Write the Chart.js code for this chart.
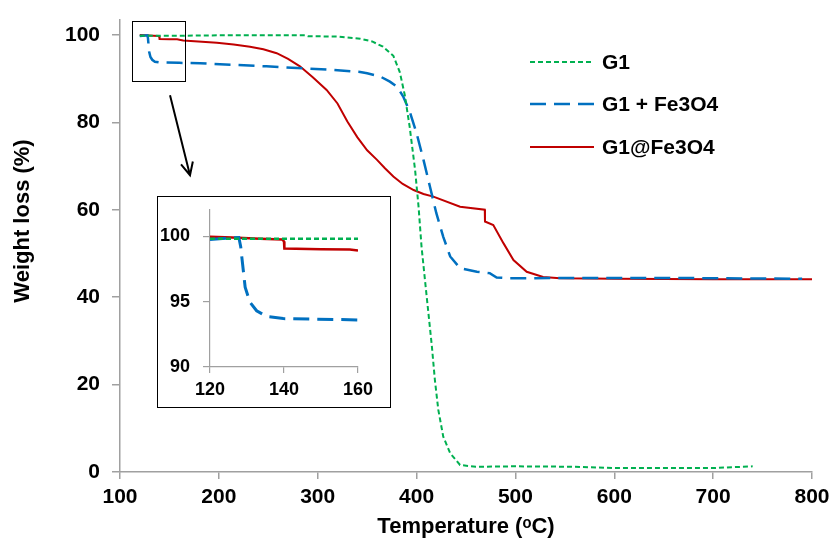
<!DOCTYPE html>
<html>
  <head>
    <title>TGA curves</title>
    <style>
        body {
            background-color: white;
            margin: 0;
            padding: 0;
          }
          .wrap {
            position: relative;
            width: 835px;
            height: 544px;
          }
          .inset {
            position: absolute;
            left: 157px;
            top: 196px;
            width: 232px;
            height: 210px;
            border: 1px solid #000;
            background: white;
          }
    </style>
    <script src="https://cdn.jsdelivr.net/npm/chart.js"></script>
  </head>
  <body>
    <div class="wrap">
      <canvas id="mainChart" width="835" height="544"></canvas>
      <div class="inset">
        <canvas id="insetChart" width="232" height="210"></canvas>
      </div>
    </div>
    <script>
      // data
      const seriesNames = ["G1", "G1 + Fe3O4", "G1@Fe3O4"];

      const g1Temp = [120, 160, 200, 250, 287, 290, 320, 343, 355, 366, 376.5, 383, 388, 393, 398.5, 402, 405, 408.5, 412, 415.5, 418.5, 422, 427, 434, 444, 460, 500, 560, 600, 650, 700, 740];
      const g1Weight = [99.8, 99.8, 99.9, 99.9, 99.9, 99.7, 99.6, 99.1, 98.5, 97.3, 95.2, 91.5, 86.3, 79, 69.1, 60.7, 51.6, 43.9, 36.3, 28.7, 21.1, 14.2, 8.1, 4.3, 1.6, 1.2, 1.3, 1.2, 0.9, 0.9, 0.9, 1.3];

      const mixTemp = [120, 127.8, 128.3, 128.6, 129.5, 130.8, 132.6, 135.3, 139.8, 160, 181, 248, 315, 343, 350, 363, 373, 380, 386.5, 393, 400, 407, 413.5, 420, 427, 434, 444, 461, 474, 481, 494, 550, 650, 790];
      const mixWeight = [99.75, 99.9, 99.2, 98.4, 96.1, 94.95, 94.3, 93.86, 93.7, 93.6, 93.5, 92.8, 92, 91.5, 91.2, 90.5, 89.3, 88.2, 85.9, 82.5, 77.5, 71.4, 65.3, 59.2, 53.8, 49.3, 46.6, 45.8, 45.5, 44.5, 44.3, 44.4, 44.4, 44.2];

      const coreTemp = [120, 126, 133.5, 139.5, 140, 140.1, 150, 157.8, 160, 164, 198, 215, 231.5, 245, 258.5, 270, 282, 295, 309, 320, 330, 340, 350, 360, 368, 376.5, 386, 397, 407, 417, 444, 469, 469.2, 477.6, 488, 498, 511.4, 528, 545, 600, 700, 800];
      const coreWeight = [99.95, 99.9, 99.8, 99.75, 99.6, 99.05, 99, 98.98, 98.9, 98.7, 98.2, 97.8, 97.3, 96.7, 95.8, 94.5, 92.8, 90.3, 87.4, 84.3, 80.2, 76.6, 73.6, 71.4, 69.5, 67.6, 65.9, 64.5, 63.6, 63, 60.7, 60, 57.3, 56.5, 52.3, 48.5, 45.8, 44.6, 44.3, 44.2, 44.1, 44.1];

      const xTicks = [100, 200, 300, 400, 500, 600, 700, 800];
      const yTicks = [0, 20, 40, 60, 80, 100];
      const insetXTicks = [120, 140, 160];
      const insetYTicks = [90, 95, 100];

      const FONT = "'Liberation Sans', Arial, sans-serif";
      const AXIS = "#a0a0a0";

      function toPoints(xs, ys) {
        return xs.map((x, i) => ({ x: x, y: ys[i] }));
      }

      function makeDatasets(w) {
        return [
          {
            label: seriesNames[0],
            data: toPoints(g1Temp, g1Weight),
            borderColor: "#00b050",
            borderWidth: w,
            borderDash: [5, 3]
          },
          {
            label: seriesNames[1],
            data: toPoints(mixTemp, mixWeight),
            borderColor: "#0070c0",
            borderWidth: w + 0.5,
            borderDash: [16, 8]
          },
          {
            label: seriesNames[2],
            data: toPoints(coreTemp, coreWeight),
            borderColor: "#c00000",
            borderWidth: w
          }
        ];
      }

      function noPadX(s) { s.paddingLeft = 0; s.paddingRight = 0; }
      function noPadY(s) { s.paddingTop = 0; s.paddingBottom = 0; }

      // zoom box, arrow, legend and y title on the main chart
      const extras = {
        id: "extras",
        afterDraw(chart) {
          const ctx = chart.ctx;
          const xs = chart.scales.x;
          const ys = chart.scales.y;
          ctx.save();

          // zoom box
          ctx.strokeStyle = "#000";
          ctx.lineWidth = 1;
          const bx1 = xs.getPixelForValue(112), bx2 = xs.getPixelForValue(165.8);
          const by1 = ys.getPixelForValue(103.2), by2 = ys.getPixelForValue(89.5);
          ctx.strokeRect(Math.round(bx1) + 0.5, Math.round(by1) + 0.5, Math.round(bx2 - bx1), Math.round(by2 - by1));

          // arrow
          const ax1 = xs.getPixelForValue(150.6), ay1 = ys.getPixelForValue(86.2);
          const ax2 = xs.getPixelForValue(170.8), ay2 = ys.getPixelForValue(67.9);
          const ang = Math.atan2(ay2 - ay1, ax2 - ax1);
          ctx.lineWidth = 2;
          ctx.beginPath();
          ctx.moveTo(ax1, ay1);
          ctx.lineTo(ax2, ay2);
          ctx.moveTo(ax2 - 14 * Math.cos(ang - 0.45), ay2 - 14 * Math.sin(ang - 0.45));
          ctx.lineTo(ax2, ay2);
          ctx.lineTo(ax2 - 14 * Math.cos(ang + 0.45), ay2 - 14 * Math.sin(ang + 0.45));
          ctx.stroke();

          // legend
          const rows = [62, 104, 147];
          ctx.font = "bold 21px " + FONT;
          ctx.textBaseline = "middle";
          ctx.fillStyle = "#000";
          chart.data.datasets.forEach((ds, i) => {
            ctx.strokeStyle = ds.borderColor;
            ctx.lineWidth = ds.borderWidth;
            ctx.setLineDash(ds.borderDash || []);
            ctx.beginPath();
            ctx.moveTo(530, rows[i]);
            ctx.lineTo(594, rows[i]);
            ctx.stroke();
            ctx.setLineDash([]);
            ctx.fillText(ds.label, 602, rows[i] + 1);
          });

          // y axis title
          ctx.translate(23, 221);
          ctx.rotate(-Math.PI / 2);
          ctx.textAlign = "center";
          ctx.font = "bold 22px " + FONT;
          ctx.fillText("Weight loss (%)", 0, 0);
          ctx.restore();
        }
      };

      const mainChart = new Chart(document.getElementById("mainChart"), {
        type: "line",
        data: { datasets: makeDatasets(2) },
        options: {
          responsive: false,
          animation: false,
          layout: { padding: { top: 20, right: 23, left: 0, bottom: 0 } },
          elements: { point: { radius: 0 }, line: { tension: 0 } },
          plugins: { legend: { display: false }, tooltip: { enabled: false } },
          scales: {
            x: {
              type: "linear",
              min: 100,
              max: 800,
              afterBuildTicks: (s) => { s.ticks = xTicks.map(v => ({ value: v })); },
              afterFit: (s) => { s.height = 72; noPadX(s); },
              ticks: { color: "#000", font: { family: FONT, size: 21, weight: "bold" }, padding: 6, maxRotation: 0 },
              grid: { drawOnChartArea: false, tickLength: 7, color: AXIS, lineWidth: 1.5 },
              border: { color: AXIS, width: 1.5 },
              title: {
                display: true,
                text: "Temperature (ᵒC)",
                color: "#000",
                font: { family: FONT, size: 22, weight: "bold" },
                padding: { top: 0, bottom: 4 }
              }
            },
            y: {
              min: 0,
              max: 103.4,
              afterBuildTicks: (s) => { s.ticks = yTicks.map(v => ({ value: v })); },
              afterFit: (s) => { s.width = 120; noPadY(s); },
              ticks: { color: "#000", font: { family: FONT, size: 21, weight: "bold" }, padding: 12 },
              grid: { drawOnChartArea: false, tickLength: 8, color: AXIS, lineWidth: 1.5 },
              border: { color: AXIS, width: 1.5 }
            }
          }
        },
        plugins: [extras]
      });

      const insetChart = new Chart(document.getElementById("insetChart"), {
        type: "line",
        data: { datasets: makeDatasets(2.5) },
        options: {
          responsive: false,
          animation: false,
          layout: { padding: { top: 13, right: 32, left: 0, bottom: 0 } },
          elements: { point: { radius: 0 }, line: { tension: 0 } },
          plugins: { legend: { display: false }, tooltip: { enabled: false } },
          scales: {
            x: {
              type: "linear",
              min: 120,
              max: 160,
              afterBuildTicks: (s) => { s.ticks = insetXTicks.map(v => ({ value: v })); },
              afterFit: (s) => { s.height = 40; noPadX(s); },
              ticks: { color: "#000", font: { family: FONT, size: 18, weight: "bold" }, padding: 6, maxRotation: 0 },
              grid: { drawOnChartArea: false, tickLength: 6, color: AXIS, lineWidth: 1.2 },
              border: { color: AXIS, width: 1.2 }
            },
            y: {
              min: 90,
              max: 102,
              afterBuildTicks: (s) => { s.ticks = insetYTicks.map(v => ({ value: v })); },
              afterFit: (s) => { s.width = 52; noPadY(s); },
              ticks: { color: "#000", font: { family: FONT, size: 18, weight: "bold" }, padding: 13 },
              grid: { drawOnChartArea: false, tickLength: 7, color: AXIS, lineWidth: 1.2 },
              border: { color: AXIS, width: 1.2 }
            }
          }
        }
      });
    </script>
  </body>
</html>
